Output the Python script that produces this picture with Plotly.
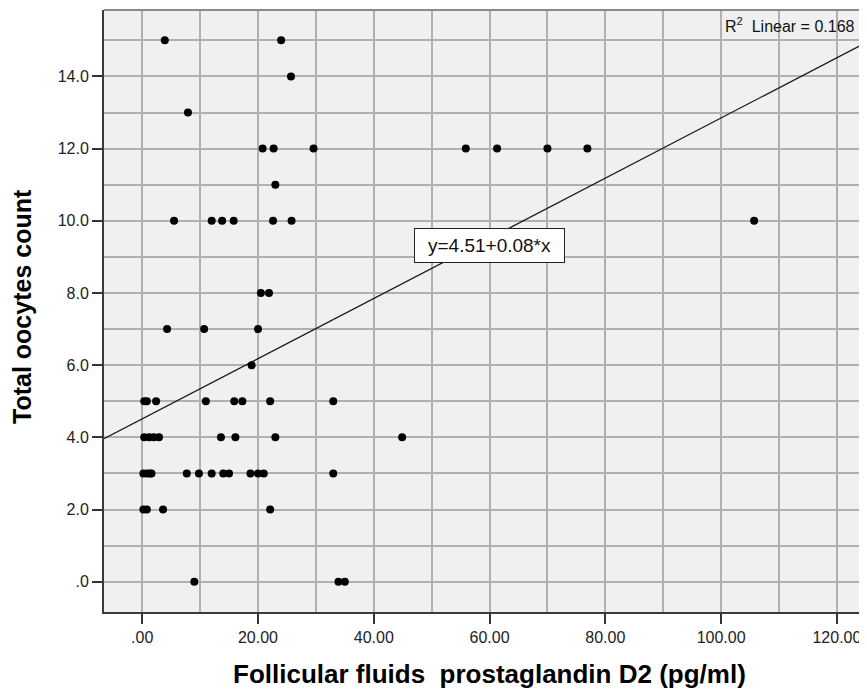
import plotly.graph_objects as go

# Data: follicular fluid PGD2 (pg/ml) vs total oocytes count
pgd2 = [3.9, 24.0,
        25.7,
        7.9,
        20.8, 22.7, 29.6, 55.9, 61.3, 70.0, 76.9,
        23.0,
        5.5, 12.0, 13.8, 15.8, 22.6, 25.8, 105.7,
        20.5, 21.9,
        4.3, 10.7, 20.0,
        18.9,
        0.35, 0.8, 2.4, 11.0, 15.9, 17.3, 22.1, 33.0,
        0.35, 1.2, 2.0, 2.9, 13.6, 16.1, 23.0, 44.9,
        0.2, 0.8, 1.3, 1.6, 7.7, 9.8, 12.0, 14.0, 15.0, 18.7, 20.0, 21.0, 33.0,
        0.2, 0.8, 3.6, 22.1,
        9.0, 33.9, 35.0]
oocytes = [15, 15,
           14,
           13,
           12, 12, 12, 12, 12, 12, 12,
           11,
           10, 10, 10, 10, 10, 10, 10,
           8, 8,
           7, 7, 7,
           6,
           5, 5, 5, 5, 5, 5, 5, 5,
           4, 4, 4, 4, 4, 4, 4, 4,
           3, 3, 3, 3, 3, 3, 3, 3, 3, 3, 3, 3, 3,
           2, 2, 2, 2,
           0, 0, 0]

fit_intercept = 4.51
fit_slope = 0.0834
r2_text = "R<sup>2</sup>\u00a0\u00a0Linear = 0.168"
eq_text = "y=4.51+0.08*x"

x_ticks = [0, 20, 40, 60, 80, 100, 120]
x_ticklabels = [".00", "20.00", "40.00", "60.00", "80.00", "100.00", "120.00"]
y_ticks = [0, 2, 4, 6, 8, 10, 12, 14]
y_ticklabels = [".0", "2.0", "4.0", "6.0", "8.0", "10.0", "12.0", "14.0"]

x_range = [-6.6, 125.2]
y_range = [-0.84, 15.84]

FONT = "Arial, 'Liberation Sans', sans-serif"

# page body has an 8px margin: figure is offset by 8px
W, H = 859, 685
ML, MT, MB = 96, 2, 81
PW = W - ML
PH = H - MT - MB

def px_x(px):
    return (px - 8 - ML) / PW

def px_y(py):
    return (H - MB - (py - 8)) / PH

fig = go.Figure()

fit_x = list(x_range)
fit_y = [fit_intercept + fit_slope * v for v in fit_x]
fig.add_trace(go.Scatter(x=fit_x, y=fit_y, mode="lines",
                         line=dict(color="#1a1a1a", width=1.3),
                         hoverinfo="skip", showlegend=False))

fig.add_trace(go.Scatter(x=pgd2, y=oocytes, mode="markers",
                         marker=dict(color="black", size=8),
                         showlegend=False))

grid_color = "#b0b0b0"
fig.update_xaxes(range=x_range, tickvals=x_ticks, ticktext=x_ticklabels,
                 showgrid=True, gridcolor=grid_color, gridwidth=1.6,
                 minor=dict(dtick=10, tick0=0, showgrid=True, gridcolor=grid_color, gridwidth=1.6),
                 ticks="outside", ticklen=10, tickwidth=2, tickcolor="#333",
                 showline=True, linecolor="#3a3a3a", linewidth=2,
                 zeroline=False,
                 tickfont=dict(family=FONT, size=16, color="#222"))
fig.update_yaxes(range=y_range, tickvals=y_ticks, ticktext=y_ticklabels,
                 showgrid=True, gridcolor=grid_color, gridwidth=1.6,
                 minor=dict(dtick=1, tick0=0, showgrid=True, gridcolor=grid_color, gridwidth=1.6),
                 ticks="outside", ticklen=10, tickwidth=2, tickcolor="#333",
                 showline=True, linecolor="#3a3a3a", linewidth=2,
                 zeroline=False,
                 tickfont=dict(family=FONT, size=16, color="#222"))

fig.add_shape(type="line", xref="paper", yref="paper", x0=0, x1=1, y0=1, y1=1,
              line=dict(color="#8a8a8a", width=2))

fig.add_annotation(x=60.0, y=9.31, xref="x", yref="y", text=eq_text,
                   showarrow=False, bgcolor="white", bordercolor="#222",
                   borderwidth=1, borderpad=2, width=145, height=29,
                   font=dict(family=FONT, size=19, color="#111"))

fig.add_annotation(x=px_x(857), y=px_y(25), xref="paper", yref="paper",
                   text=r2_text, showarrow=False, xanchor="right", yanchor="middle",
                   font=dict(family=FONT, size=16, color="#111"))

fig.add_annotation(x=px_x(22), y=px_y(307), xref="paper", yref="paper",
                   text="<b>Total oocytes count</b>", textangle=-90, showarrow=False,
                   xanchor="center", yanchor="middle",
                   font=dict(family=FONT, size=25, color="black"))

fig.add_annotation(x=px_x(489), y=px_y(674), xref="paper", yref="paper",
                   text="<b>Follicular fluids\u00a0 prostaglandin D2 (pg/ml)</b>", showarrow=False,
                   xanchor="center", yanchor="middle",
                   font=dict(family=FONT, size=26, color="black"))

fig.update_layout(width=W, height=H,
                  margin=dict(l=ML, r=0, t=MT, b=MB, autoexpand=False),
                  plot_bgcolor="#f0f0f0", paper_bgcolor="white",
                  showlegend=False)

fig.write_html("out.html")
